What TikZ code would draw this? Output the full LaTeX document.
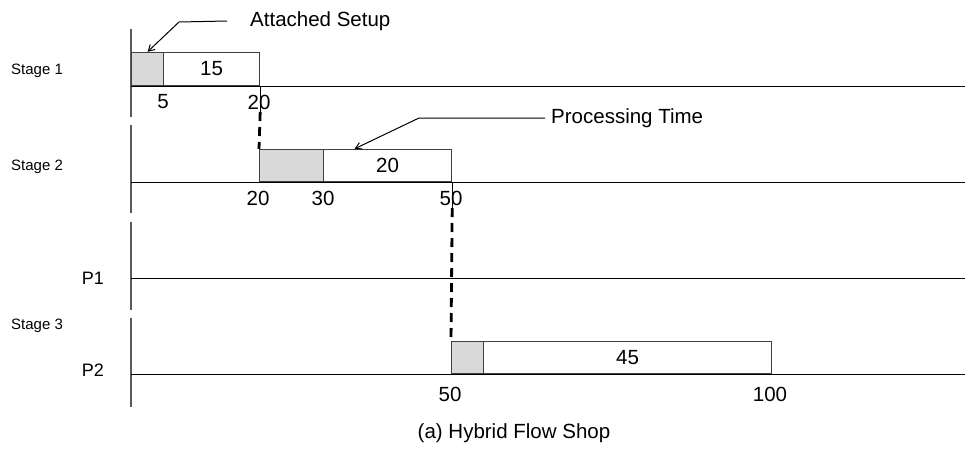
\documentclass[tikz,border=0pt]{standalone}
\usepackage{fontspec}
\setmainfont{Liberation Sans}
\usetikzlibrary{arrows.meta}
\definecolor{setupgray}{HTML}{D9D9D9}
\definecolor{framegray}{HTML}{404040}
\definecolor{axisgray}{HTML}{5A5A5A}
\begin{document}
\begin{tikzpicture}[x=1pt,y=-1pt,
  txt/.style={font=\fontsize{20.5}{24}\selectfont,inner sep=0pt},
  machine/.style={font=\fontsize{18}{21}\selectfont,inner sep=0pt},
  small/.style={font=\fontsize{15}{18}\selectfont,inner sep=0pt},
  timeline/.style={line width=1pt,black},
  axis/.style={line width=2pt,axisgray},
  job/.style={draw=framegray,line width=1.2pt,inner sep=0pt,anchor=south west,
    font=\fontsize{20.5}{24}\selectfont},
  setupbox/.style={job,fill=setupgray},
  procbox/.style={job,fill=white},
  tick/.style={line width=1pt,black},
  link/.style={line width=2.8pt,black,dash pattern=on 9pt off 6pt},
  leader/.style={line width=1pt,black,-{Straight Barb[length=6pt,width=7pt]}}]
\useasboundingbox (0,0) rectangle (965,450);

% machine axes
\draw[axis] (131,29) -- (131,117);
\draw[axis] (131,125) -- (131,213);
\draw[axis] (131,222) -- (131,310);
\draw[axis] (131,318) -- (131,407);

% time lines
\draw[timeline] (131,86) -- (965,86);
\draw[timeline] (131,182) -- (965,182);
\draw[timeline] (131,278) -- (965,278);
\draw[timeline] (131,374) -- (965,374);

% row labels
\node[small,anchor=west] (st1) at (11,71) {Stage 1};
\node[small,anchor=west] (st2) at (11,167) {Stage 2};
\node[small,anchor=west] (st3) at (11,326) {Stage 3};
\node[machine] (p1) at (93,278) {P1};
\node[machine] (p2) at (93,370) {P2};

% stage 1 job
\node[setupbox,minimum width=32pt,minimum height=33pt] (s1s) at (131,86) {};
\node[procbox,minimum width=96pt,minimum height=33pt] (s1p) at (163,86) {15};

% stage 2 job
\node[setupbox,minimum width=64pt,minimum height=32pt] (s2s) at (259,182) {};
\node[procbox,minimum width=128pt,minimum height=32pt] (s2p) at (323,182) {20};

% stage 3, machine P2
\node[setupbox,minimum width=32pt,minimum height=32pt] (p2s) at (451,374) {};
\node[procbox,minimum width=288pt,minimum height=32pt] (p2p) at (483,374) {45};

% time marks
\node[txt] (t5) at (163,102) {5};
\node[txt] (t20a) at (259,102) {20};
\node[txt] (t20b) at (258,198) {20};
\node[txt] (t30) at (323,198) {30};
\node[txt] (t50a) at (451,198) {50};
\node[txt] (t50b) at (450,394) {50};
\node[txt] (t100) at (770,394) {100};

% precedence links: a thin stem through the time mark, then dashes
\coordinate (k1) at ([yshift=-26pt]s1p.south east);
\coordinate (k2) at ([yshift=-26pt]s2p.south east);
\draw[tick] (s1p.south east) -- (k1);
\draw[tick] (s2p.south east) -- (k2);
\draw[link] (k1) -- (s2s.north west);
\draw[link] (k2) -- (p2s.north west);

% callouts
\node[txt,anchor=west] (aset) at (250,21) {Attached Setup};
\draw[leader] ([xshift=-23pt]aset.west) -- (179,22) -- (s1s.north);
\node[txt,anchor=west] (ptime) at (551,118) {Processing Time};
\draw[leader] ([xshift=-6pt]ptime.west) -- (419,118) -- ([xshift=-33pt]s2p.north);

% caption
\node[txt] (cap) at (514,433) {(a) Hybrid Flow Shop};
\end{tikzpicture}
\end{document}
